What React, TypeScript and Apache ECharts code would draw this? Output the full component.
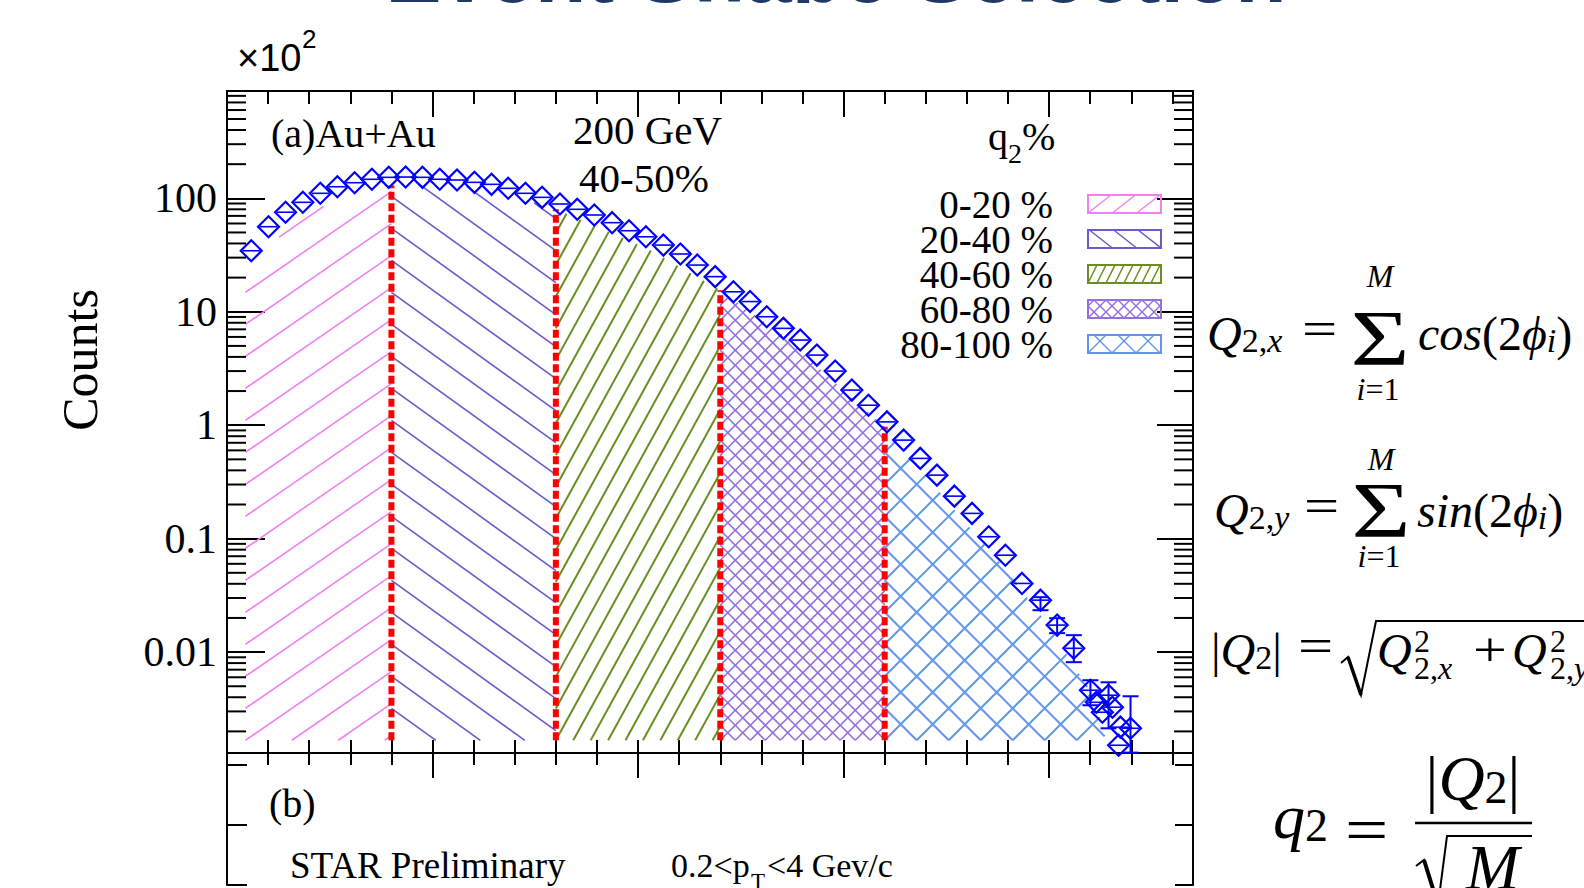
import React, { useEffect, useRef } from "react";
import * as echarts from "echarts";

// ---------------- axes ----------------
const X_MIN = 0;
const X_MAX = 4.7;
const Y_MIN = 0.00129;
const Y_MAX = 883;
const FILL_FLOOR = 0.00167;
const yTickLabels = ["0.01", "0.1", "1", "10", "100"];

// ---------------- q2 distribution (Counts x10^2) ----------------
const binX = [0.118, 0.202, 0.285, 0.369, 0.454, 0.537, 0.621, 0.705, 0.787, 0.869, 0.951, 1.035, 1.119, 1.204, 1.287, 1.368, 1.452, 1.533, 1.62, 1.704, 1.787, 1.874, 1.956, 2.038, 2.123, 2.206, 2.288, 2.375, 2.464, 2.545, 2.626, 2.707, 2.789, 2.87, 2.959, 3.04, 3.121, 3.211, 3.292, 3.373, 3.454, 3.539, 3.625, 3.706, 3.787, 3.868, 3.958, 4.039, 4.12];
const binCounts = [34.5, 56.2, 75.4, 92.2, 110.7, 126.5, 137.3, 147.1, 153.1, 154.0, 153.1, 147.1, 145.0, 138.3, 132.8, 122.5, 110.7, 102.0, 89.1, 80.0, 71.3, 61.0, 51.8, 45.8, 38.7, 32.3, 25.8, 20.4, 15.0, 12.3, 9.04, 7.14, 5.63, 4.15, 3.0, 2.04, 1.5, 1.07, 0.739, 0.51, 0.363, 0.237, 0.167, 0.104, 0.0715, 0.0403, 0.0287, 0.0173, 0.0108];
const tailX = [4.201, 4.23, 4.259, 4.289, 4.308, 4.338, 4.347, 4.396];
const tailCounts = [0.00461, 0.00361, 0.00295, 0.00417, 0.00327, 0.00151, 0.00218, 0.00213];
const errX = [3.958, 4.039, 4.12, 4.201, 4.289, 4.396];
const errLow = [0.0234, 0.0147, 0.00815, 0.0034, 0.00213, 0.0013];
const errHigh = [0.0305, 0.0199, 0.0141, 0.00565, 0.00542, 0.00408];

// ---------------- q2 classes (filled histograms) ----------------
const fillX = [0.09, 0.207, 0.353, 0.499, 0.645, 0.8, 0.938, 1.132, 1.327, 1.6, 1.815, 2.058, 2.4, 2.691, 2.934, 3.2, 3.52, 3.763, 4.007, 4.226, 4.275];
const fillY = [19.0, 38.7, 64.4, 90.9, 113.6, 130.0, 139.2, 131.0, 111.4, 80.0, 54.7, 35.0, 15.5, 6.49, 2.6, 0.97, 0.198, 0.0608, 0.0163, 0.00377, 0.00167];
const cutX = [0.8, 1.6, 2.4, 3.2];
const cutTop = [130.0, 80.0, 15.5, 0.97];
const classLabels = ["0-20 %", "20-40 %", "40-60 %", "60-80 %", "80-100 %"];
const classStart = [0.09, 0.8, 1.6, 2.4, 3.2];
const classEnd = [0.8, 1.6, 2.4, 3.2, 4.275];
const classColors = ["#ee82ee", "#6a5acd", "#6b8e23", "#9370db", "#6495ed"];
const classLineWidth = [1.6, 1.6, 2, 1.6, 2];
const classHatch = [
  [{ slope: -0.69, sp: 32 }],
  [{ slope: 0.72, sp: 32 }],
  [{ slope: -1.82, sp: 31.7 }],
  [{ slope: 1, sp: 15 }, { slope: -1, sp: 15 }],
  [{ slope: 1, sp: 32 }, { slope: -1, sp: 32 }],
];
const legendHatch = [
  [{ slope: -0.78, sp: 19 }],
  [{ slope: 0.78, sp: 19 }],
  [{ slope: -2, sp: 18 }],
  [{ slope: 1, sp: 12 }, { slope: -1, sp: 12 }],
  [{ slope: 1, sp: 24 }, { slope: -1, sp: 24 }],
];

const SERIF = "'Liberation Serif', 'Times New Roman', 'DejaVu Serif', serif";
const SANS = "'Liberation Sans', Arial, sans-serif";
const BLUE = "#0000ff";

// hatch line segments inside region x in [x0,x1], y in [top(x), bottom]
function hatch(x0: number, x1: number, top: (x: number) => number, bottom: number, slope: number, sp: number, ax: number, ay: number) {
  const segs: number[][] = [];
  let minTop = top(x1);
  for (let x = x0; x <= x1; x += 1) minTop = Math.min(minTop, top(x));
  const y0 = ay + slope * (x0 - ax);
  const y1 = ay + slope * (x1 - ax);
  const lo = Math.min(y0, y1);
  const hi = Math.max(y0, y1);
  const kMin = Math.floor((minTop - hi) / sp) - 1;
  const kMax = Math.ceil((bottom - lo) / sp) + 1;
  const step = 0.5;
  for (let k = kMin; k <= kMax; k++) {
    const yl = (x: number) => ay + k * sp + slope * (x - ax);
    const d = (x: number) => Math.min(yl(x) - top(x), bottom - yl(x));
    let inside = false;
    let sx = x0;
    let px = x0;
    let pd = d(x0);
    if (pd >= 0) inside = true;
    const n = Math.ceil((x1 - x0) / step);
    for (let j = 1; j <= n; j++) {
      const x = Math.min(x1, x0 + j * step);
      const dd = d(x);
      if (!inside && dd >= 0) {
        const t = pd / (pd - dd);
        sx = px + t * (x - px);
        inside = true;
      } else if (inside && dd < 0) {
        const t = pd / (pd - dd);
        const ex = px + t * (x - px);
        if (ex - sx > 0.3) segs.push([sx, yl(sx), ex, yl(ex)]);
        inside = false;
      }
      px = x;
      pd = dd;
    }
    if (inside && x1 - sx > 0.3) segs.push([sx, yl(sx), x1, yl(x1)]);
  }
  return segs;
}

function interp(pts: number[][], x: number) {
  if (x <= pts[0][0]) return pts[0][1];
  for (let i = 1; i < pts.length; i++) {
    if (x <= pts[i][0]) {
      const a = pts[i - 1];
      const b = pts[i];
      const t = (x - a[0]) / (b[0] - a[0] || 1);
      return a[1] + t * (b[1] - a[1]);
    }
  }
  return pts[pts.length - 1][1];
}

function T(x: number, y: number, text: string, size: number, o: any = {}) {
  const style: any = {
    text,
    fontSize: size,
    fontFamily: o.family || SERIF,
    fontStyle: o.italic ? "italic" : "normal",
    fontWeight: o.weight || "normal",
    fill: o.color || "#000",
    align: o.align || "left",
    verticalAlign: "middle",
    textAlign: o.align || "left",
    textVerticalAlign: "middle",
  };
  if (o.rich) style.rich = o.rich;
  return { type: "text", x, y, z: o.z ?? 10, rotation: o.rotation || 0, scaleX: o.sx || 1, silent: true, style };
}

const R48 = {
  n: { fontSize: 48, fontFamily: SERIF, lineHeight: 48 },
  i: { fontSize: 48, fontFamily: SERIF, fontStyle: "italic", lineHeight: 48 },
  sn: { fontSize: 34, fontFamily: SERIF, lineHeight: 36, verticalAlign: "bottom" },
  si: { fontSize: 34, fontFamily: SERIF, fontStyle: "italic", lineHeight: 36, verticalAlign: "bottom" },
};
const R32 = {
  n: { fontSize: 32, fontFamily: SERIF, lineHeight: 32 },
  i: { fontSize: 32, fontFamily: SERIF, fontStyle: "italic", lineHeight: 32 },
};
const R64 = {
  n: { fontSize: 64, fontFamily: SERIF, lineHeight: 64 },
  i: { fontSize: 64, fontFamily: SERIF, fontStyle: "italic", lineHeight: 64 },
  s: { fontSize: 46, fontFamily: SERIF, lineHeight: 20, verticalAlign: "bottom" },
  s2: { fontSize: 46, fontFamily: SERIF, lineHeight: 28, verticalAlign: "bottom" },
};

function buildGraphic() {
  const g: any[] = [];
  // slide title (mostly hidden behind the figure)
  g.push(T(836, -27, "Event Shape Selection", 84, { family: SANS, weight: "bold", color: "#1f3864", align: "center", z: 1 }));
  g.push({ type: "rect", shape: { x: 300, y: 3, width: 1100, height: 26 }, style: { fill: "#ffffff", stroke: "none" }, z: 2, silent: true });

  // axis multiplier
  g.push(T(237, 58, "×10", 38, { family: SANS }));
  g.push(T(302, 39, "2", 26, { family: SANS }));

  // panel (a) texts
  g.push(T(271, 133, "(a)Au+Au", 40));
  g.push(T(573, 130, "200 GeV", 41));
  g.push(T(579, 178, "40-50%", 41));
  g.push(T(988, 136, "q", 40));
  g.push(T(1008, 153, "2", 28));
  g.push(T(1022, 136, "%", 40));

  // legend
  for (let i = 0; i < classLabels.length; i++) {
    const rx = 1088;
    const ry = 195 + 35 * i;
    const w = 73;
    const h = 18;
    g.push(T(1053, ry + 9, classLabels[i], 39, { align: "right" }));
    for (const f of legendHatch[i]) {
      const segs = hatch(rx, rx + w, () => ry, ry + h, f.slope, f.sp, rx, ry + h);
      for (const s of segs) {
        g.push({ type: "line", shape: { x1: s[0], y1: s[1], x2: s[2], y2: s[3] }, style: { stroke: classColors[i], lineWidth: 1.5 }, silent: true, z: 10 });
      }
    }
    g.push({ type: "rect", shape: { x: rx, y: ry, width: w, height: h }, style: { fill: "none", stroke: classColors[i], lineWidth: 2 }, silent: true, z: 11 });
  }

  // panel (b) texts
  g.push(T(269, 803, "(b)", 40));
  g.push(T(290, 865, "STAR Preliminary", 37));
  g.push(T(671, 865, "0.2<p", 34));
  g.push(T(751, 881, "T", 23));
  g.push(T(767, 865, "<4 Gev/c", 34));

  // equations
  // Q_{2,x}
  g.push(T(1207, 333, "{i|Q}{sn|2,}{si|x}", 48, { rich: R48 }));
  g.push(T(1302, 329, "=", 48, { sx: 1.3 }));
  g.push(T(1380, 338, "Σ", 78, { align: "center", sx: 1.3 }));
  g.push(T(1380, 276, "M", 32, { italic: true, align: "center" }));
  g.push(T(1378, 389, "{i|i}{n|=1}", 32, { rich: R32, align: "center" }));
  g.push(T(1418, 333, "{i|cos}{n|(2}{i|ϕ}{si|i}{n|)}", 48, { rich: R48 }));
  // Q_{2,y}
  g.push(T(1214, 510, "{i|Q}{sn|2,}{si|y}", 48, { rich: R48 }));
  g.push(T(1304, 506, "=", 48, { sx: 1.3 }));
  g.push(T(1381, 510, "Σ", 78, { align: "center", sx: 1.3 }));
  g.push(T(1381, 459, "M", 32, { italic: true, align: "center" }));
  g.push(T(1379, 556, "{i|i}{n|=1}", 32, { rich: R32, align: "center" }));
  g.push(T(1417, 510, "{i|sin}{n|(2}{i|ϕ}{si|i}{n|)}", 48, { rich: R48 }));
  // |Q2|
  g.push(T(1211, 650, "{n||}{i|Q}{sn|2}{n||}", 48, { rich: R48 }));
  g.push(T(1298, 646, "=", 48, { sx: 1.3 }));
  g.push({ type: "polyline", shape: { points: [[1341, 663], [1348, 657], [1361, 695], [1376, 621], [1600, 621]] }, style: { stroke: "#000", lineWidth: 2, fill: "none" }, silent: true, z: 10 });
  g.push({ type: "line", shape: { x1: 1348, y1: 657, x2: 1361, y2: 695 }, style: { stroke: "#000", lineWidth: 3.5 }, silent: true, z: 10 });
  g.push(T(1377, 650, "Q", 48, { italic: true }));
  g.push(T(1414, 641, "2", 32));
  g.push(T(1414, 668, "{n|2,}{i|x}", 32, { rich: R32 }));
  g.push(T(1473, 650, "+", 48, { sx: 1.25 }));
  g.push(T(1512, 650, "Q", 48, { italic: true }));
  g.push(T(1550, 641, "2", 32));
  g.push(T(1550, 668, "{n|2,}{i|y}", 32, { rich: R32 }));
  // q2
  g.push(T(1273, 816, "{i|q}{s|2}", 64, { rich: R64 }));
  g.push(T(1345, 829, "=", 64, { sx: 1.2 }));
  g.push(T(1473, 778, "{n||}{i|Q}{s2|2}{n||}", 64, { rich: R64, align: "center" }));
  g.push({ type: "line", shape: { x1: 1415, y1: 823, x2: 1532, y2: 823 }, style: { stroke: "#000", lineWidth: 2.5 }, silent: true, z: 10 });
  g.push({ type: "polyline", shape: { points: [[1416, 866], [1424, 860], [1438, 905], [1447, 836], [1532, 836]] }, style: { stroke: "#000", lineWidth: 2, fill: "none" }, silent: true, z: 10 });
  g.push({ type: "line", shape: { x1: 1424, y1: 860, x2: 1438, y2: 905 }, style: { stroke: "#000", lineWidth: 4 }, silent: true, z: 10 });
  g.push(T(1466, 867, "M", 64, { italic: true }));
  return g;
}

const AX = { color: "#000", width: 2 };

function xAxisCfg(gridIndex: number, position: string, tickLen: number, minorLen: number) {
  return {
    gridIndex,
    type: "value",
    position,
    min: X_MIN,
    max: X_MAX,
    interval: 1,
    axisLine: { show: true, onZero: false, lineStyle: AX },
    axisTick: { show: true, inside: true, length: tickLen, lineStyle: AX },
    minorTick: { show: true, splitNumber: 5, length: minorLen, lineStyle: AX },
    axisLabel: { show: false },
    splitLine: { show: false },
    minorSplitLine: { show: false },
  };
}

function yAxisB(position: string, tickLen: number) {
  return {
    gridIndex: 1,
    type: "value",
    position,
    min: 0,
    max: 2.2,
    interval: 1,
    axisLine: { show: true, onZero: false, lineStyle: AX },
    axisTick: { show: true, inside: true, length: tickLen, lineStyle: AX },
    minorTick: { show: false },
    axisLabel: { show: false },
    splitLine: { show: false },
  };
}

function buildOption() {
  const logMinorTicks: number[] = [];
  for (let d = -3; d <= 2; d++) {
    for (let m = 2; m <= 9; m++) {
      const v = m * Math.pow(10, d);
      if (v > Y_MIN && v < Y_MAX) logMinorTicks.push(v);
    }
  }
  const points = binX.map((x, i) => [x, binCounts[i]]).concat(tailX.map((x, i) => [x, tailCounts[i]]));

  return {
    animation: false,
    backgroundColor: "#fff",
    grid: [
      { left: 227, top: 91, width: 966, height: 662 },
      { left: 227, top: 753, width: 966, height: 132 },
    ],
    xAxis: [xAxisCfg(0, "bottom", 13, 13), xAxisCfg(0, "top", 26, 13), xAxisCfg(1, "top", 25, 12)],
    yAxis: [
      {
        gridIndex: 0,
        type: "log",
        position: "left",
        min: Y_MIN,
        max: Y_MAX,
        axisLine: { show: true, onZero: false, lineStyle: AX },
        axisTick: { show: true, inside: true, length: 38, lineStyle: AX },
        axisLabel: {
          show: true,
          margin: 10,
          color: "#000",
          fontSize: 42,
          fontFamily: SERIF,
          showMinLabel: false,
          showMaxLabel: false,
          formatter: (v: number) => {
            const k = Math.log10(v);
            const idx = Math.round(k) + 2;
            if (Math.abs(k - Math.round(k)) < 1e-6 && idx >= 0 && idx < yTickLabels.length) return yTickLabels[idx];
            return "";
          },
        },
        splitLine: { show: false },
        name: "Counts",
        nameLocation: "middle",
        nameGap: 122,
        nameTextStyle: { color: "#000", fontSize: 50, fontFamily: SERIF, padding: [0, 0, 0, 124] },
      },
      {
        gridIndex: 0,
        type: "log",
        position: "right",
        min: Y_MIN,
        max: Y_MAX,
        axisLine: { show: true, onZero: false, lineStyle: AX },
        axisTick: { show: true, inside: true, length: 36, lineStyle: AX },
        axisLabel: { show: false },
        splitLine: { show: false },
      },
      yAxisB("left", 20),
      yAxisB("right", 18),
    ],
    series: [
      {
        name: "q2 classes",
        type: "custom",
        xAxisIndex: 0,
        yAxisIndex: 0,
        silent: true,
        z: 1,
        encode: { x: [0, 1], y: 3 },
        data: classStart.map((s, i) => [s, classEnd[i], i, FILL_FLOOR]),
        renderItem: (params: any, api: any) => {
          const xa = api.value(0);
          const xb = api.value(1);
          const ci = api.value(2);
          const pa = api.coord([xa, FILL_FLOOR]);
          const pb = api.coord([xb, FILL_FLOOR]);
          const edge = fillX.map((x, i) => api.coord([x, fillY[i]]));
          const top = (px: number) => interp(edge, px);
          const children: any[] = [];
          for (const f of classHatch[ci]) {
            const segs = hatch(pa[0], pb[0], top, pa[1], f.slope, f.sp, pa[0], pa[1]);
            for (const s of segs) {
              children.push({ type: "line", shape: { x1: s[0], y1: s[1], x2: s[2], y2: s[3] }, style: { stroke: classColors[ci], lineWidth: classLineWidth[ci] } });
            }
          }
          return { type: "group", children };
        },
      },
      {
        name: "q2 cuts",
        type: "custom",
        xAxisIndex: 0,
        yAxisIndex: 0,
        silent: true,
        z: 3,
        encode: { x: 0, y: 1 },
        data: cutX.map((x, i) => [x, cutTop[i]]),
        renderItem: (params: any, api: any) => {
          const a = api.coord([api.value(0), FILL_FLOOR]);
          const b = api.coord([api.value(0), api.value(1)]);
          return { type: "line", shape: { x1: a[0], y1: a[1], x2: b[0], y2: b[1] }, style: { stroke: "#ff0000", lineWidth: 6, lineDash: [8, 3.5] } };
        },
      },
      {
        name: "error bars",
        type: "custom",
        xAxisIndex: 0,
        yAxisIndex: 0,
        silent: true,
        z: 4,
        encode: { x: 0, y: [1, 2] },
        data: errX.map((x, i) => [x, errLow[i], errHigh[i]]),
        renderItem: (params: any, api: any) => {
          const lo = api.coord([api.value(0), api.value(1)]);
          const hi = api.coord([api.value(0), api.value(2)]);
          const st = { stroke: BLUE, lineWidth: 2 };
          return {
            type: "group",
            children: [
              { type: "line", shape: { x1: lo[0], y1: lo[1], x2: hi[0], y2: hi[1] }, style: st },
              { type: "line", shape: { x1: hi[0] - 8, y1: hi[1], x2: hi[0] + 8, y2: hi[1] }, style: st },
              { type: "line", shape: { x1: lo[0] - 8, y1: lo[1], x2: lo[0] + 8, y2: lo[1] }, style: st },
            ],
          };
        },
      },
      {
        name: "q2 distribution",
        type: "custom",
        xAxisIndex: 0,
        yAxisIndex: 0,
        silent: true,
        z: 5,
        encode: { x: 0, y: 1 },
        data: points,
        renderItem: (params: any, api: any) => {
          const x = api.value(0);
          const y = api.value(1);
          const c = api.coord([x, y]);
          const l = api.coord([x - 0.0418, y]);
          const r = api.coord([x + 0.0418, y]);
          const h = 10.5;
          return {
            type: "group",
            children: [
              { type: "polygon", shape: { points: [[c[0], c[1] - h], [c[0] + h, c[1]], [c[0], c[1] + h], [c[0] - h, c[1]]] }, style: { fill: "none", stroke: BLUE, lineWidth: 2.2 } },
              { type: "line", shape: { x1: l[0], y1: l[1], x2: r[0], y2: r[1] }, style: { stroke: BLUE, lineWidth: 1.6 } },
            ],
          };
        },
      },
      {
        name: "log minor ticks",
        type: "custom",
        xAxisIndex: 0,
        yAxisIndex: 0,
        silent: true,
        z: 6,
        encode: { x: 0, y: 1 },
        data: logMinorTicks.map((v) => [X_MIN, v]),
        renderItem: (params: any, api: any) => {
          const p = api.coord([X_MIN, api.value(1)]);
          const q = api.coord([X_MAX, api.value(1)]);
          const st = { stroke: "#000", lineWidth: 2 };
          return {
            type: "group",
            children: [
              { type: "line", shape: { x1: p[0], y1: p[1], x2: p[0] + 19, y2: p[1] }, style: st },
              { type: "line", shape: { x1: q[0] - 19, y1: q[1], x2: q[0], y2: q[1] }, style: st },
            ],
          };
        },
      },
    ],
    graphic: buildGraphic(),
  };
}

export default function App() {
  const ref = useRef<HTMLDivElement>(null);
  useEffect(() => {
    if (!ref.current) return;
    const chart = echarts.init(ref.current, null, { renderer: "svg" });
    chart.setOption(buildOption() as any);
    return () => chart.dispose();
  }, []);
  return <div ref={ref} style={{ position: "fixed", left: 0, top: 0, width: 1584, height: 888, background: "#fff" }} />;
}
